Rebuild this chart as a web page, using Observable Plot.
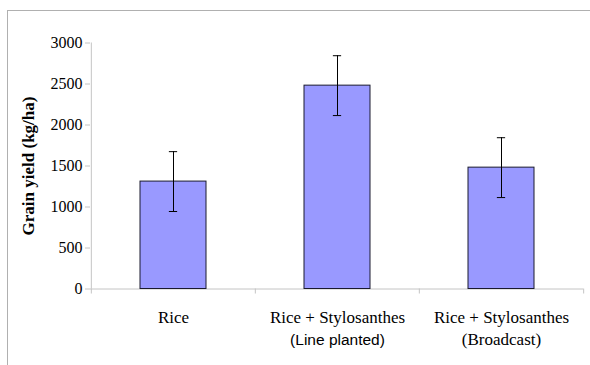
<!DOCTYPE html>
<html>
<head>
<meta charset="utf-8">
<script src="https://cdn.jsdelivr.net/npm/d3@7"></script>
<script src="https://cdn.jsdelivr.net/npm/@observablehq/plot@0.6"></script>
<style>
  html, body { margin: 0; padding: 0; background: #fff; }
  #wrap { position: relative; width: 590px; height: 365px; overflow: hidden; }
  #border { position: absolute; left: 7px; top: 10px; width: 700px; height: 500px;
            border-top: 1px solid #b0b0b0; border-left: 1px solid #b0b0b0; }
  #chart { position: absolute; left: 0; top: 0; }
  #chart svg text { font-family: "Liberation Serif", "Times New Roman", serif; }
</style>
</head>
<body>
<div id="wrap"><div id="border"></div><div id="chart"></div></div>
<script>
const categories = ["Rice", "Rice + Stylosanthes (Line planted)", "Rice + Stylosanthes (Broadcast)"];
const labelLine1 = ["Rice", "Rice + Stylosanthes", "Rice + Stylosanthes"];
const labelLine2 = ["", "(Line planted)", "(Broadcast)"];
const line2Sans = [false, true, false];
const yields = [1310, 2480, 1480];
const errors = [365, 365, 365];
const yTicks = [0, 500, 1000, 1500, 2000, 2500, 3000];
const yTitle = "Grain yield (kg/ha)";

const data = categories.map((c, i) => ({
  cat: c, y: yields[i], lo: yields[i] - errors[i], hi: yields[i] + errors[i],
  l1: labelLine1[i], l2: labelLine2[i], sans: line2Sans[i]
}));

const W = 590, H = 365, ML = 90, MR = 7, MT = 42.5, MB = 76.5;
const step = (W - ML - MR) / categories.length;
const barW = step * 0.4;
const capW = 8;
const axisGray = "#c4c4c4";

const chart = Plot.plot({
  width: W, height: H,
  marginLeft: ML, marginRight: MR, marginTop: MT, marginBottom: MB,
  style: { fontSize: "16px", color: "#000", background: "transparent" },
  x: { domain: categories, paddingInner: 0.6, paddingOuter: 0.3, axis: null },
  y: { domain: [0, 3000], axis: null },
  marks: [
    Plot.axisY({ ticks: yTicks, tickFormat: d3.format("d"), tickSize: 5, tickPadding: 3,
                 stroke: axisGray, fill: "#000", fontSize: 16, label: null }),
    Plot.ruleX([categories[0]], { x: d => d, dx: -step / 2, y1: 0, y2: 3000, stroke: axisGray }),
    Plot.ruleY([0], { stroke: axisGray }),
    Plot.ruleX(categories, { x: d => d, dx: -step / 2, y1: 0, y2: 0, insetBottom: -5, stroke: axisGray }),
    Plot.ruleX([categories[categories.length - 1]], { x: d => d, dx: step / 2, y1: 0, y2: 0, insetBottom: -5, stroke: axisGray }),
    Plot.barY(data, { x: "cat", y: "y", fill: "#9999ff", stroke: "#1a1a2e", strokeWidth: 1 }),
    Plot.ruleX(data, { x: "cat", y1: "lo", y2: "hi", stroke: "#000", strokeWidth: 1 }),
    Plot.tickY(data, { x: "cat", y: "lo", stroke: "#000", insetLeft: (barW - capW) / 2, insetRight: (barW - capW) / 2 }),
    Plot.tickY(data, { x: "cat", y: "hi", stroke: "#000", insetLeft: (barW - capW) / 2, insetRight: (barW - capW) / 2 }),
    Plot.text(data, { x: "cat", text: "l1", frameAnchor: "bottom", lineAnchor: "bottom", dy: 33.5,
                      fontSize: 17, fill: "#000" }),
    Plot.text(data, { x: "cat", text: "l2", frameAnchor: "bottom", lineAnchor: "bottom", dy: 55.5,
                      fontSize: 17, fill: "#000" }),
    Plot.text([yTitle], { frameAnchor: "left", textAnchor: "middle", lineAnchor: "middle", dx: -62, rotate: -90,
                          fontWeight: "bold", fontSize: 17, fill: "#000" })
  ]
});
// second-line label that the reference sets in a sans-serif face
d3.select(chart).selectAll("text").each(function () {
  const t = this.textContent;
  const i = labelLine2.indexOf(t);
  if (i >= 0 && line2Sans[i]) {
    this.style.fontFamily = "'Liberation Sans', Arial, sans-serif";
    this.style.fontSize = "15.5px";
  }
});
document.getElementById("chart").appendChild(chart);
</script>
</body>
</html>
